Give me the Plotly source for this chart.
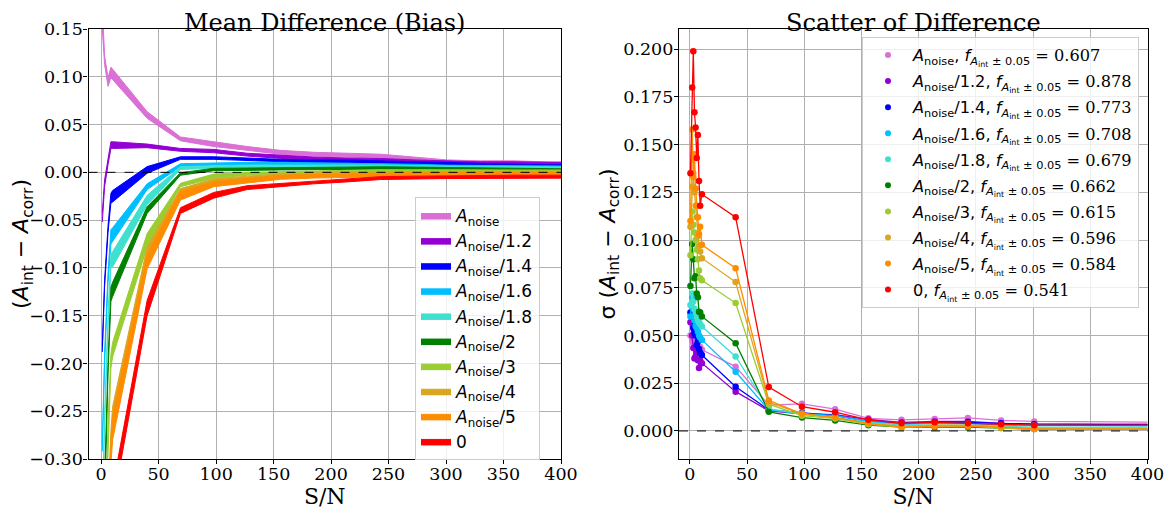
import plotly.graph_objects as go

# ---------------- data ----------------
series_labels = ["<i>A</i><sub>noise</sub>", "<i>A</i><sub>noise</sub>/1.2", "<i>A</i><sub>noise</sub>/1.4",
                 "<i>A</i><sub>noise</sub>/1.6", "<i>A</i><sub>noise</sub>/1.8", "<i>A</i><sub>noise</sub>/2",
                 "<i>A</i><sub>noise</sub>/3", "<i>A</i><sub>noise</sub>/4", "<i>A</i><sub>noise</sub>/5", "0"]
colors = ["#DA70D6", "#9400D3", "#0000FF", "#00BFFF", "#40E0D0", "#008000",
          "#9ACD32", "#DAA520", "#FF8C00", "#FF0000"]
f_values = ["0.607", "0.878", "0.773", "0.708", "0.679", "0.662", "0.615", "0.596", "0.584", "0.541"]

# Left panel: S/N grid and bias bands (lower, upper)
sn_bias = [1, 3, 6, 8.5, 10, 40, 69, 98, 127, 156, 185, 214, 243, 272, 301, 330, 359, 388, 417]

bias_lo_noise = [0.150, 0.113, 0.090, 0.099, 0.097, 0.0565, 0.033, 0.027, 0.023, 0.019, 0.017, 0.016, 0.015, 0.012, 0.010, 0.009, 0.009, 0.008, 0.008]
bias_hi_noise = [0.175, 0.122, 0.099, 0.110, 0.108, 0.0635, 0.037, 0.032, 0.027, 0.023, 0.021, 0.020, 0.019, 0.016, 0.013, 0.012, 0.012, 0.011, 0.011]
bias_lo_12 = [-0.052, -0.015, 0.008, 0.025, 0.025, 0.0258, 0.022, 0.0205, 0.017, 0.0146, 0.013, 0.012, 0.0115, 0.010, 0.009, 0.008, 0.008, 0.007, 0.007]
bias_hi_12 = [-0.042, -0.008, 0.014, 0.032, 0.032, 0.0296, 0.025, 0.024, 0.020, 0.018, 0.016, 0.015, 0.0145, 0.013, 0.012, 0.011, 0.011, 0.010, 0.010]
bias_lo_14 = [-0.188, -0.120, -0.063, -0.032, -0.031, -0.001, 0.0136, 0.0136, 0.012, 0.011, 0.010, 0.010, 0.009, 0.008, 0.007, 0.006, 0.0055, 0.005, 0.005]
bias_hi_14 = [-0.182, -0.113, -0.056, -0.022, -0.019, 0.006, 0.0163, 0.0163, 0.015, 0.0136, 0.013, 0.013, 0.012, 0.011, 0.010, 0.009, 0.0085, 0.008, 0.008]
bias_lo_16 = [-0.292, -0.200, -0.115, -0.075, -0.073, -0.018, 0.006, 0.0076, 0.008, 0.008, 0.0075, 0.0075, 0.007, 0.006, 0.005, 0.0045, 0.004, 0.004, 0.004]
bias_hi_16 = [-0.284, -0.190, -0.105, -0.060, -0.058, -0.012, 0.009, 0.010, 0.0105, 0.0105, 0.010, 0.010, 0.0095, 0.0085, 0.0075, 0.007, 0.0065, 0.0065, 0.0065]
bias_lo_18 = [-0.360, -0.265, -0.160, -0.100, -0.099, -0.034, 0.003, 0.0042, 0.005, 0.005, 0.005, 0.005, 0.0052, 0.0045, 0.004, 0.0035, 0.003, 0.003, 0.003]
bias_hi_18 = [-0.350, -0.255, -0.150, -0.085, -0.083, -0.024, 0.006, 0.0069, 0.0075, 0.0075, 0.0075, 0.0075, 0.0078, 0.007, 0.0065, 0.006, 0.0055, 0.0055, 0.0055]
bias_lo_2 = [-0.450, -0.330, -0.210, -0.135, -0.130, -0.043, -0.003, 0.0017, 0.002, 0.0025, 0.003, 0.003, 0.0032, 0.003, 0.0025, 0.002, 0.0015, 0.001, 0.001]
bias_hi_2 = [-0.440, -0.320, -0.200, -0.120, -0.115, -0.036, -0.0004, 0.0042, 0.0045, 0.005, 0.0055, 0.0055, 0.0058, 0.0055, 0.005, 0.0045, 0.004, 0.0035, 0.0035]
bias_lo_3 = [-0.550, -0.400, -0.270, -0.205, -0.193, -0.078, -0.015, -0.0063, -0.003, -0.0018, -0.001, 0.0, 0.0, 0.0, 0.0, 0.0, 0.0, 0.0, 0.0]
bias_hi_3 = [-0.540, -0.390, -0.260, -0.190, -0.178, -0.064, -0.0115, -0.0018, 0.0, 0.0006, 0.0015, 0.0025, 0.0028, 0.0028, 0.0025, 0.0025, 0.0025, 0.0025, 0.0025]
bias_lo_4 = [-0.620, -0.500, -0.360, -0.290, -0.265, -0.090, -0.022, -0.011, -0.008, -0.006, -0.004, -0.003, -0.0025, -0.002, -0.0015, -0.0015, -0.0015, -0.0015, -0.0015]
bias_hi_4 = [-0.600, -0.480, -0.340, -0.270, -0.245, -0.078, -0.017, -0.007, -0.004, -0.002, -0.0005, 0.0, 0.0005, 0.001, 0.0012, 0.0012, 0.0012, 0.0012, 0.0012]
bias_lo_5 = [-0.650, -0.520, -0.380, -0.305, -0.280, -0.101, -0.029, -0.015, -0.011, -0.0073, -0.006, -0.005, -0.0045, -0.004, -0.003, -0.003, -0.003, -0.003, -0.003]
bias_hi_5 = [-0.630, -0.500, -0.360, -0.285, -0.255, -0.086, -0.020, -0.010, -0.0065, -0.003, -0.0025, -0.0015, -0.001, -0.0005, 0.0, 0.0, 0.0, 0.0, 0.0]
bias_lo_0 = [-0.900, -0.800, -0.620, -0.500, -0.350, -0.150, -0.043, -0.027, -0.018, -0.015, -0.012, -0.010, -0.0075, -0.007, -0.0065, -0.006, -0.006, -0.006, -0.006]
bias_hi_0 = [-0.880, -0.780, -0.600, -0.480, -0.330, -0.134, -0.037, -0.021, -0.014, -0.0115, -0.009, -0.007, -0.0045, -0.004, -0.0035, -0.003, -0.003, -0.003, -0.003]

bias_lo = [bias_lo_noise, bias_lo_12, bias_lo_14, bias_lo_16, bias_lo_18, bias_lo_2, bias_lo_3, bias_lo_4, bias_lo_5, bias_lo_0]
bias_hi = [bias_hi_noise, bias_hi_12, bias_hi_14, bias_hi_16, bias_hi_18, bias_hi_2, bias_hi_3, bias_hi_4, bias_hi_5, bias_hi_0]

# Right panel: S/N grid and scatter of difference
sn_scatter = [0.5, 2, 3, 4, 5, 6, 7, 8, 9, 10.5, 40, 69, 98, 127, 156, 185, 214, 243, 272, 301, 450]

sigma_noise = [0.050, 0.0477, 0.046, 0.0435, 0.044, 0.043, 0.045, 0.042, 0.044, 0.0425, 0.0337, 0.0135, 0.0142, 0.0114, 0.0066, 0.0058, 0.0063, 0.0068, 0.0055, 0.005, 0.0045]
sigma_12 = [0.057, 0.050, 0.0435, 0.038, 0.039, 0.041, 0.037, 0.033, 0.037, 0.0355, 0.0206, 0.0105, 0.009, 0.0085, 0.006, 0.0045, 0.005, 0.005, 0.004, 0.0035, 0.0035]
sigma_14 = [0.062, 0.060, 0.054, 0.051, 0.050, 0.045, 0.047, 0.043, 0.041, 0.0398, 0.0232, 0.011, 0.0095, 0.008, 0.005, 0.004, 0.0045, 0.0045, 0.004, 0.0035, 0.003]
sigma_16 = [0.060, 0.070, 0.064, 0.058, 0.055, 0.054, 0.052, 0.050, 0.049, 0.0477, 0.031, 0.011, 0.009, 0.008, 0.005, 0.0035, 0.004, 0.004, 0.003, 0.003, 0.0025]
sigma_18 = [0.066, 0.072, 0.068, 0.064, 0.062, 0.060, 0.058, 0.057, 0.056, 0.0547, 0.039, 0.0115, 0.009, 0.007, 0.0045, 0.003, 0.003, 0.003, 0.0025, 0.002, 0.002]
sigma_2 = [0.076, 0.098, 0.090, 0.080, 0.081, 0.072, 0.070, 0.0625, 0.062, 0.060, 0.046, 0.010, 0.007, 0.0055, 0.003, 0.002, 0.002, 0.002, 0.0015, 0.001, 0.001]
sigma_3 = [0.092, 0.115, 0.108, 0.104, 0.100, 0.095, 0.090, 0.084, 0.080, 0.079, 0.067, 0.014, 0.008, 0.0065, 0.0035, 0.002, 0.0025, 0.0025, 0.0015, 0.001, 0.001]
sigma_4 = [0.107, 0.128, 0.135, 0.125, 0.118, 0.112, 0.102, 0.097, 0.094, 0.0905, 0.078, 0.015, 0.009, 0.007, 0.004, 0.0025, 0.003, 0.003, 0.002, 0.0015, 0.0015]
sigma_5 = [0.110, 0.158, 0.133, 0.145, 0.127, 0.118, 0.112, 0.103, 0.107, 0.0975, 0.0853, 0.016, 0.009, 0.007, 0.004, 0.002, 0.0025, 0.0025, 0.002, 0.001, 0.001]
sigma_0 = [0.135, 0.180, 0.199, 0.167, 0.159, 0.143, 0.155, 0.131, 0.118, 0.124, 0.112, 0.023, 0.0127, 0.0098, 0.0058, 0.004, 0.0045, 0.004, 0.0035, 0.003, 0.003]

sigmas = [sigma_noise, sigma_12, sigma_14, sigma_16, sigma_18, sigma_2, sigma_3, sigma_4, sigma_5, sigma_0]

x_ticks = [0, 50, 100, 150, 200, 250, 300, 350, 400]

# ---------------- figure ----------------
SERIF = "DejaVu Serif"
SANS = "DejaVu Sans"
OFF = 8                      # page body margin of the browser
W, H = 1173 - OFF, 509 - OFF


def px(x):
    return (x - OFF) / W


def py(y):
    return 1 - (y - OFF) / H


fig = go.Figure()

# left panel bands
for i, (lab, col, lo, hi) in enumerate(zip(series_labels, colors, bias_lo, bias_hi)):
    fig.add_trace(go.Scatter(
        x=sn_bias + sn_bias[::-1], y=hi + lo[::-1],
        fill="toself", fillcolor=col, mode="lines",
        line=dict(color=col, width=1),
        name=lab, legend="legend", legendgroup="b%d" % i, xaxis="x", yaxis="y",
        hoverinfo="skip"))

# right panel lines with markers
for lab, col, f, s in zip(series_labels, colors, f_values, sigmas):
    fig.add_trace(go.Scatter(
        x=sn_scatter, y=s, mode="lines+markers",
        line=dict(color=col, width=1.3),
        marker=dict(color=col, size=6.5),
        showlegend=False, xaxis="x2", yaxis="y2"))
for i, (lab, col, f) in enumerate(zip(series_labels, colors, f_values)):
    name = (lab + ", <i>f</i><sub><i>A</i><sub>int</sub> ± 0.05</sub>"
            + "<span style='font-family:DejaVu Serif'> = " + f + "</span>")
    fig.add_trace(go.Scatter(
        x=[None], y=[None], mode="markers",
        marker=dict(color=col, size=6),
        name=name, legend="legend2", legendgroup="s%d" % i, xaxis="x2", yaxis="y2"))

axis_common = dict(
    showgrid=True, gridcolor="#b0b0b0", gridwidth=1,
    showline=True, linecolor="black", linewidth=1.2, mirror=True,
    ticks="outside", ticklen=4, tickcolor="black",
    tickfont=dict(family=SERIF, size=17.5, color="black"),
    zeroline=False, automargin=False,
)

fig.update_layout(
    width=W, height=H,
    margin=dict(l=0, r=0, t=0, b=0),
    paper_bgcolor="white", plot_bgcolor="white",
    xaxis=dict(domain=[px(88.5), px(561)], range=[-11, 400], tickvals=x_ticks,
               ticklabelstandoff=-5,
               title=dict(text="S/N", font=dict(family=SERIF, size=22, color="black"), standoff=2),
               anchor="y", **axis_common),
    yaxis=dict(domain=[py(459), py(29)], range=[-0.30, 0.15], dtick=0.05, tickformat=".2f",
               ticklabelstandoff=-3,
               title=dict(text="(<i>A</i><sub>int</sub> − <i>A</i><sub>corr</sub>)",
                          font=dict(family=SANS, size=22, color="black"), standoff=2),
               anchor="x", **axis_common),
    xaxis2=dict(domain=[px(679), px(1147.5)], range=[-9.5, 400], tickvals=x_ticks,
                ticklabelstandoff=-5,
                title=dict(text="S/N", font=dict(family=SERIF, size=22, color="black"), standoff=2),
                anchor="y2", **axis_common),
    yaxis2=dict(domain=[py(459), py(29)], range=[-0.0147, 0.2106], dtick=0.025, tickformat=".3f",
                ticklabelstandoff=-3,
                title=dict(text="σ (<i>A</i><sub>int</sub> − <i>A</i><sub>corr</sub>)",
                           font=dict(family=SANS, size=22, color="black"), standoff=1),
                anchor="x2", **axis_common),
    legend=dict(x=px(415), y=py(197), xanchor="left", yanchor="top",
                bgcolor="rgba(255,255,255,0.8)", bordercolor="#cccccc", borderwidth=1,
                font=dict(family=SANS, size=17, color="black"), tracegroupgap=0,
                itemwidth=30),
    legend2=dict(x=px(862), y=py(37), xanchor="left", yanchor="top",
                 bgcolor="rgba(255,255,255,0.8)", bordercolor="#cccccc", borderwidth=1,
                 font=dict(family=SANS, size=16.2, color="black"), tracegroupgap=2,
                 itemwidth=40),
    shapes=[
        dict(type="line", xref="x domain", yref="y", x0=0, x1=1, y0=0, y1=0,
             line=dict(color="black", width=1, dash="dash"), layer="above"),
        dict(type="line", xref="x2 domain", yref="y2", x0=0, x1=1, y0=0, y1=0,
             line=dict(color="black", width=1, dash="dash"), layer="above"),
    ],
    annotations=[
        dict(text="Mean Difference (Bias)", x=px((88.5 + 561) / 2), y=1, yshift=1,
             xref="paper", yref="paper", showarrow=False, xanchor="center", yanchor="top",
             font=dict(family=SERIF, size=24, color="black")),
        dict(text="Scatter of Difference", x=px((679 + 1147.5) / 2), y=1, yshift=1,
             xref="paper", yref="paper", showarrow=False, xanchor="center", yanchor="top",
             font=dict(family=SERIF, size=24, color="black")),
    ],
    showlegend=True,
)

fig.write_html("out.html")
